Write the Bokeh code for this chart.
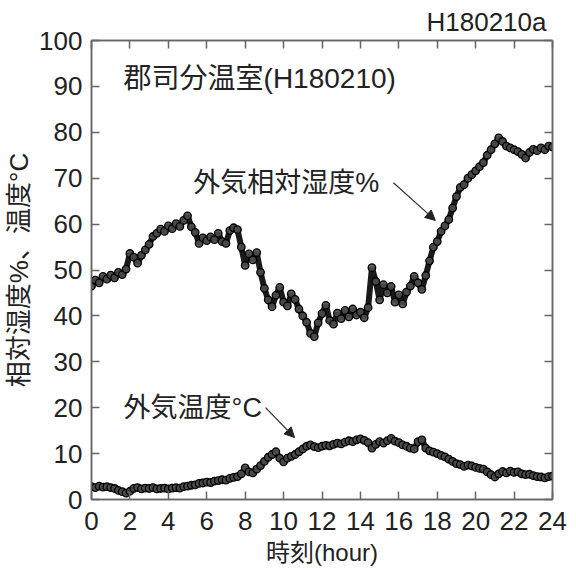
import numpy as np
from bokeh.plotting import figure
from bokeh.models import (Range1d, LinearAxis, SingleIntervalTicker, Label,
                          Arrow, NormalHead, CustomJSTickFormatter)
from bokeh.embed import file_html
from bokeh.resources import INLINE

# Sampling grid: one reading every 0.2 h over the day
hours = np.round(np.arange(0, 24.01, 0.2), 1)

# Outside relative humidity (%)
humidity = [
    46.5, 47.8, 47.2, 48.6, 48.0, 48.9, 48.3, 49.5, 49.0, 50.2,
    53.6, 52.8, 51.5, 53.2, 54.4, 55.6, 57.3, 58.0, 58.9, 58.4,
    59.6, 59.0, 60.1, 59.5, 60.8, 61.8, 59.4, 58.2, 55.8, 57.0,
    56.4, 57.2, 56.6, 58.0, 56.2, 55.8, 58.6, 59.2, 58.8, 55.0,
    51.0, 53.5, 52.2, 53.8, 49.5, 46.0, 43.5, 42.0, 44.5, 46.2,
    43.0, 42.2, 44.8, 43.6, 41.5, 40.0, 38.6, 36.2, 35.5, 38.5,
    40.5, 42.3, 39.0, 38.2, 40.6, 39.4, 41.2, 39.8, 41.5, 40.2,
    40.8, 39.6, 41.8, 50.5, 47.5, 43.5, 46.8, 45.0, 46.4, 43.0,
    44.6, 42.6, 45.2, 46.5, 48.6, 47.2, 45.8, 48.8, 52.0, 55.0,
    56.2, 58.4, 59.6, 61.0, 63.5, 66.0, 68.0, 68.6, 70.0, 70.8,
    71.6, 72.5, 73.4, 75.0, 76.2, 77.5, 78.8, 78.0, 77.0, 76.6,
    76.2, 75.8, 75.2, 74.4, 75.6, 76.3, 76.0, 76.6, 76.2, 77.0,
    76.8,
]

# Outside air temperature (°C)
temperature = [
    2.8, 2.6, 2.9, 2.7, 2.8, 2.6, 2.4, 2.0, 1.7, 1.4,
    1.8, 2.4, 2.6, 2.3, 2.5, 2.4, 2.6, 2.3, 2.4, 2.5,
    2.3, 2.5, 2.6, 2.5, 2.8, 2.9, 3.1, 3.2, 3.5, 3.6,
    3.8, 3.7, 4.0, 4.1, 4.3, 4.2, 4.6, 4.8, 5.0, 5.6,
    6.9, 6.0, 5.8, 6.6, 7.4, 8.3, 9.2, 9.8, 10.4, 9.0,
    8.2, 9.0, 9.4, 9.8, 10.4, 11.0, 11.6, 11.9, 11.5, 11.3,
    11.6, 11.8, 11.7, 12.0, 12.3, 12.1, 12.5, 12.8, 12.6, 13.0,
    13.2, 12.9, 12.4, 11.2, 12.0, 12.6, 12.3, 12.8, 13.3, 12.7,
    12.4, 11.9, 11.6, 11.2, 11.0, 12.6, 13.0, 11.2, 10.6, 10.3,
    10.0, 9.6, 9.3, 8.8, 8.3, 7.8, 7.6, 7.2, 7.5, 7.3,
    7.0, 6.8, 6.6, 6.0, 5.4, 4.9, 5.6, 6.1, 5.8, 6.2,
    5.9, 6.0, 5.6, 5.4, 5.5, 5.2, 5.0, 4.9, 4.7, 5.0,
    5.1,
]

FONT = "'Liberation Sans', 'Noto Sans CJK JP', sans-serif"
INK = "#222222"
FRAME = "#666666"

p = figure(width=576, height=572, output_backend="svg", toolbar_location=None,
           x_range=Range1d(0, 24), y_range=Range1d(0, 100),
           min_border_left=91, min_border_right=24,
           min_border_top=40, min_border_bottom=73)
p.xgrid.visible = False
p.ygrid.visible = False
p.outline_line_color = FRAME
p.outline_line_width = 1.5

# Run identifier, right-aligned above the frame
p.title.text = "H180210a"
p.title.align = "right"
p.title.text_font = FONT
p.title.text_font_size = "26px"
p.title.text_font_style = "normal"
p.title.text_color = INK
p.title.standoff = 0
p.title.offset = 6

# Bottom and left axes carry labels; ticks point into the frame
for ax, interval in ((p.xaxis[0], 2), (p.yaxis[0], 10)):
    ax.ticker = SingleIntervalTicker(interval=interval)
    ax.minor_tick_line_color = None
    ax.major_tick_in = 8
    ax.major_tick_out = 0
    ax.major_tick_line_color = FRAME
    ax.major_tick_line_width = 1.5
    ax.axis_line_color = FRAME
    ax.axis_line_width = 1.5
    ax.major_label_text_font = FONT
    ax.major_label_text_font_size = "26px"
    ax.major_label_text_color = INK
    ax.axis_label_text_font = FONT
    ax.axis_label_text_font_style = "normal"
    ax.axis_label_text_color = INK

p.xaxis.major_label_standoff = 8
p.xaxis.axis_label = "時刻(hour)"
p.xaxis.axis_label_text_font_size = "24px"
p.xaxis.axis_label_standoff = 6
p.yaxis.major_label_standoff = 5
p.yaxis.axis_label = "相対湿度%、温度°C"
p.yaxis.axis_label_text_font_size = "26px"
p.yaxis.axis_label_standoff = 2

# Mirrored tick marks on the top and right edges (no labels)
blank = CustomJSTickFormatter(code="return '';")
top = LinearAxis(ticker=SingleIntervalTicker(interval=2), formatter=blank)
right = LinearAxis(ticker=SingleIntervalTicker(interval=10), formatter=blank)
for ax in (top, right):
    ax.minor_tick_line_color = None
    ax.major_tick_in = 8
    ax.major_tick_out = 0
    ax.major_tick_line_color = FRAME
    ax.major_tick_line_width = 1.5
    ax.axis_line_color = FRAME
    ax.axis_line_width = 1.5
    ax.major_label_text_font_size = "2px"
    ax.major_label_standoff = 0
p.add_layout(top, "above")
p.add_layout(right, "right")

# Data series: dense dark markers over a thick line
for series in (humidity, temperature):
    p.line(hours, series, line_color="#1a1a1a", line_width=6)
    p.scatter(hours, series, size=7.5, marker="circle",
              line_color="#000000", line_width=1.3,
              fill_color="#4d4d4d", fill_alpha=0.9)

# In-plot annotations
def add_text(x, y, text, size="27px"):
    p.add_layout(Label(x=x, y=y, text=text, text_font=FONT,
                       text_font_size=size, text_color=INK,
                       text_align="left", text_baseline="middle"))

add_text(1.67, 91.7, "郡司分温室(H180210)", size="28px")
add_text(5.3, 69.0, "外気相対湿度%")
add_text(1.67, 20.0, "外気温度°C")

p.add_layout(Arrow(x_start=15.72, y_start=69.0, x_end=17.9, y_end=60.8,
                   line_color="#333333", line_width=1.2,
                   end=NormalHead(size=10, fill_color="#222222",
                                  line_color="#222222")))
p.add_layout(Arrow(x_start=9.06, y_start=20.0, x_end=10.57, y_end=13.5,
                   line_color="#333333", line_width=1.2,
                   end=NormalHead(size=10, fill_color="#222222",
                                  line_color="#222222")))

open("out.html", "w").write(file_html(p, INLINE))
